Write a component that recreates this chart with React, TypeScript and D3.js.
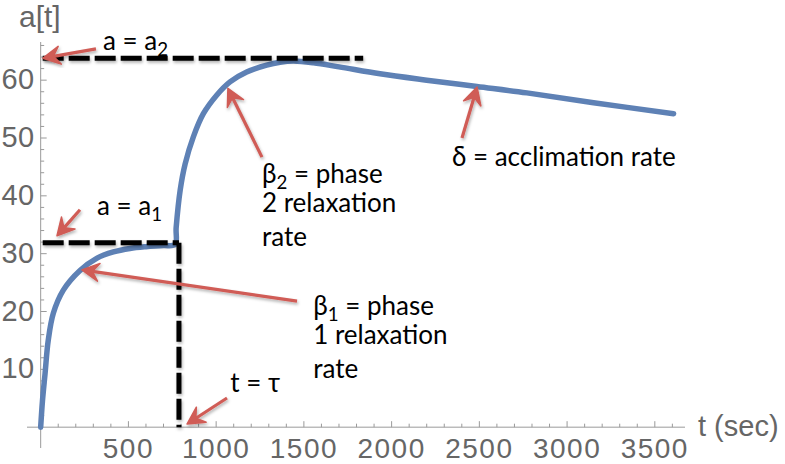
import React from "react";
import * as d3 from "d3";

// ---- data ----
const curveT = [0, 10, 25, 43, 72, 129, 224, 319, 414, 509, 600, 699, 766, 772, 795, 823, 870, 927, 1003, 1079, 1174, 1288, 1364, 1440, 1554, 1700, 1934, 2200, 2486, 2771, 3151, 3607];
const curveA = [0, 4.5, 9.3, 15, 19.7, 23.7, 27.1, 29.2, 30.3, 30.9, 31.2, 31.4, 31.6, 34.5, 41, 45.5, 50.2, 54.2, 57.4, 59.7, 61.4, 62.6, 63.1, 63.3, 63.0, 62.3, 61.1, 60.0, 58.9, 57.8, 56.1, 54.2];

const a1 = 31.9;
const a2 = 63.8;
const tau = 788;
const a2LineEnd = 1838;

const xTicks = [500, 1000, 1500, 2000, 2500, 3000, 3500];
const yTicks = [10, 20, 30, 40, 50, 60];
const xMinor = d3.range(100, 3700, 100);
const yMinor = d3.range(2, 67, 2);

// arrows: tail and tip in data units
const arrowTail = [[315, 65.4], [224, 37.6], [1261, 46.7], [1461, 21.8], [1062, 5.05], [2401, 50.0]];
const arrowTip = [[13, 63.8], [93, 33.1], [1067, 58.6], [235, 27.2], [834, 0.55], [2487, 58.8]];

// text labels anchored in data space
const labelPos = [[355, 65.2], [321, 36.7], [1261, 42.2], [1553, 19.4], [1080, 6.0], [2344, 45.2]];

const xDomain = [-78, 3672];
const yDomain = [-3.6, 66.6];

const W = 785, H = 464;
const x = d3.scaleLinear().domain(xDomain).range([27, 685]);
const y = d3.scaleLinear().domain(yDomain).range([448, 42]);

const BLUE = "rgb(94,129,181)";
const RED = "rgb(208,92,86)";
const AXIS = "#9a9a9a";
const TICKTXT = "#666";
const TICK_FONT = "'Liberation Sans', Arial, sans-serif";
const NOTE_FONT = "Lato, 'Open Sans', sans-serif";
const NOTE_SIZE = 26;

function Arrow({ tail, tip }: { tail: number[]; tip: number[] }) {
  const x0 = x(tail[0]), y0 = y(tail[1]);
  const x1 = x(tip[0]), y1 = y(tip[1]);
  const dx = x1 - x0, dy = y1 - y0;
  const len = Math.hypot(dx, dy);
  const ux = dx / len, uy = dy / len;
  const nx = -uy, ny = ux;
  const L = 17, Wd = 9;
  const bx = x1 - L * ux, by = y1 - L * uy;
  const mx = x1 - 0.62 * L * ux, my = y1 - 0.62 * L * uy;
  const head = `M${x1},${y1}L${bx + Wd * nx},${by + Wd * ny}L${mx},${my}L${bx - Wd * nx},${by - Wd * ny}Z`;
  return (
    <g filter="url(#shadow)">
      <line x1={x0} y1={y0} x2={mx} y2={my} stroke={RED} strokeWidth={3.2} />
      <path d={head} fill={RED} stroke={RED} strokeWidth={1.5} strokeLinejoin="round" />
    </g>
  );
}

function Sub({ children }: { children: React.ReactNode }) {
  return (
    <tspan fontSize={NOTE_SIZE * 0.72} dy={6}>{children}</tspan>
  );
}

export default function App() {
  const pts: [number, number][] = curveT.map((t, i) => [t, curveA[i]]);
  const line = d3.line<[number, number]>().x(d => x(d[0])).y(d => y(d[1])).curve(d3.curveCatmullRom.alpha(0.5));

  const noteStyle: React.CSSProperties = { fontFamily: NOTE_FONT, fontSize: NOTE_SIZE, fill: "#000" };

  return (
    <svg width={W} height={H} style={{ position: "absolute", left: 0, top: 0, background: "#fff" }}>
      <defs>
        <filter id="shadow" x="-20%" y="-20%" width="140%" height="140%">
          <feDropShadow dx="1" dy="2" stdDeviation="1.4" floodColor="#000" floodOpacity="0.3" />
        </filter>
      </defs>
      <rect width={W} height={H} fill="#fff" />

      {/* axes */}
      <line x1={x(xDomain[0])} x2={x(xDomain[1])} y1={y(0)} y2={y(0)} stroke={AXIS} strokeWidth={1} />
      <line x1={x(0)} x2={x(0)} y1={y(yDomain[0])} y2={y(yDomain[1])} stroke={AXIS} strokeWidth={1} />
      {xMinor.map(t => (
        <line key={"xm" + t} x1={x(t)} x2={x(t)} y1={y(0)} y2={y(0) - (t % 500 === 0 ? 6 : 3.5)} stroke={AXIS} strokeWidth={1} />
      ))}
      {yMinor.map(v => (
        <line key={"ym" + v} x1={x(0)} x2={x(0) + (v % 10 === 0 ? 6 : 3.5)} y1={y(v)} y2={y(v)} stroke={AXIS} strokeWidth={1} />
      ))}
      {xTicks.map(t => (
        <text key={"xt" + t} x={x(t)} y={y(0) + 31} textAnchor="middle" fontFamily={TICK_FONT} fontSize={28} letterSpacing={1.5} fill={TICKTXT}>{t}</text>
      ))}
      {yTicks.map(v => (
        <text key={"yt" + v} x={x(0) - 6} y={y(v) + 9} textAnchor="end" fontFamily={TICK_FONT} fontSize={29} letterSpacing={0.5} fill={TICKTXT}>{v}</text>
      ))}
      <text x={19} y={27} fontFamily={TICK_FONT} fontSize={30} fill={TICKTXT}>a[t]</text>
      <text x={698} y={y(0) + 9} fontFamily={TICK_FONT} fontSize={29} fill={TICKTXT}>t (sec)</text>

      {/* curve */}
      <path d={line(pts) || ""} fill="none" stroke={BLUE} strokeWidth={5.5} strokeLinejoin="round" strokeLinecap="round" />

      {/* dashed reference lines */}
      <g filter="url(#shadow)" stroke="#000" strokeWidth={5} fill="none">
        <line x1={x(0) + 2} x2={x(a2LineEnd)} y1={y(a2)} y2={y(a2)} strokeDasharray="21 5" />
        <line x1={x(0) + 2} x2={x(tau)} y1={y(a1)} y2={y(a1)} strokeDasharray="21 5" />
        <line x1={x(tau)} x2={x(tau)} y1={y(a1)} y2={y(0)} strokeDasharray="21 5" />
      </g>

      {/* arrows */}
      {arrowTail.map((tl, i) => (
        <Arrow key={"ar" + i} tail={tl} tip={arrowTip[i]} />
      ))}

      {/* notes */}
      <text x={x(labelPos[0][0])} y={y(labelPos[0][1])} style={noteStyle}>a = a<Sub>2</Sub></text>
      <text x={x(labelPos[1][0])} y={y(labelPos[1][1])} style={noteStyle}>a = a<Sub>1</Sub></text>
      <text x={x(labelPos[2][0])} y={y(labelPos[2][1])} style={noteStyle}>
        <tspan>β<Sub>2</Sub><tspan dy={-6}> = phase</tspan></tspan>
        <tspan x={x(labelPos[2][0])} dy={29}>2 relaxation</tspan>
        <tspan x={x(labelPos[2][0])} dy={34}>rate</tspan>
      </text>
      <text x={x(labelPos[3][0])} y={y(labelPos[3][1])} style={noteStyle}>
        <tspan>β<Sub>1</Sub><tspan dy={-6}> = phase</tspan></tspan>
        <tspan x={x(labelPos[3][0])} dy={29}>1 relaxation</tspan>
        <tspan x={x(labelPos[3][0])} dy={34}>rate</tspan>
      </text>
      <text x={x(labelPos[4][0])} y={y(labelPos[4][1])} style={noteStyle}>t = τ</text>
      <text x={x(labelPos[5][0])} y={y(labelPos[5][1])} style={noteStyle}>δ = acclimation rate</text>
    </svg>
  );
}
